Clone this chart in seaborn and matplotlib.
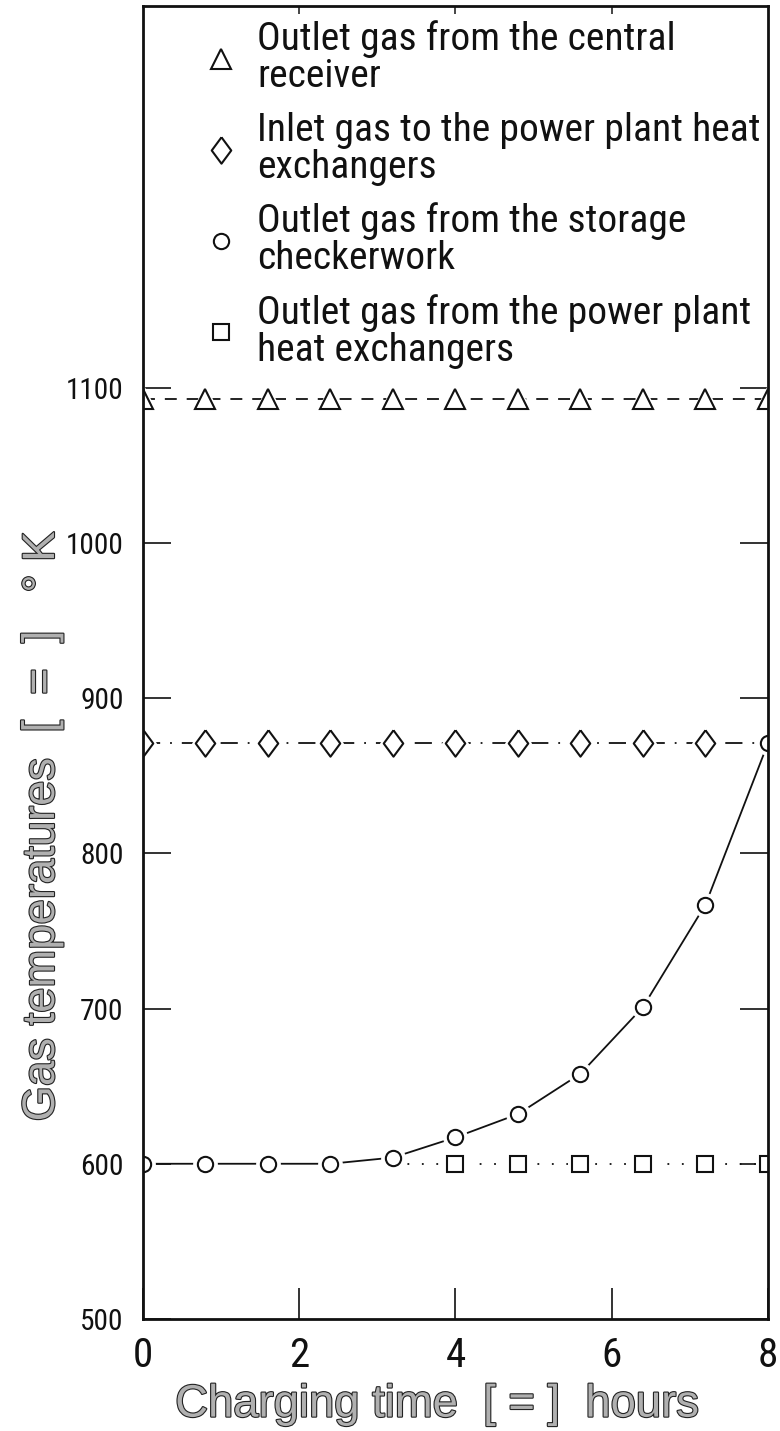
import numpy as np
import pandas as pd
import matplotlib
matplotlib.use('Agg')
import matplotlib.pyplot as plt
import matplotlib.patheffects as pe
import seaborn as sns

# Valores
tempo = [0.0, 0.8, 1.6, 2.4, 3.2, 4.0, 4.8, 5.6, 6.4, 7.2, 8.0]
receptor = [1093, 1093, 1093, 1093, 1093, 1093, 1093, 1093, 1093, 1093, 1093]
entrada_tc = [871, 871, 871, 871, 871, 871, 871, 871, 871, 871, 871]
saida_storage = [600, 600, 600, 600, 604, 617, 632, 658, 701, 767, 871]
tempo_tc = [3.2, 4.0, 4.8, 5.6, 6.4, 7.2, 8.0]
saida_tc = [600, 600, 600, 600, 600, 600, 600]

legendas = ['Outlet gas from the central\nreceiver',
            'Inlet gas to the power plant heat\nexchangers',
            'Outlet gas from the storage\ncheckerwork',
            'Outlet gas from the power plant\nheat exchangers']

xticks = [0, 2, 4, 6, 8]
yticks = [500, 600, 700, 800, 900, 1000, 1100]

sns.set_theme(style='ticks')
plt.rcParams['font.family'] = ['Roboto Condensed', 'DejaVu Sans Condensed',
                               'Liberation Sans Narrow', 'Roboto', 'DejaVu Sans']
plt.rcParams['font.stretch'] = 'condensed'

cor = '#111111'
losango = [(0, 1), (0.74, 0), (0, -1), (-0.74, 0), (0, 1)]

fig = plt.figure(figsize=(7.8, 14.31), dpi=100)
ax = fig.add_axes([0.1833, 0.0783, 0.8013, 0.9175])
renderer = fig.canvas.get_renderer()


# tamanho de fonte que deixa o texto com a largura desejada (px)
def tamanho(texto, largura, base=20, **kw):
    t = fig.text(0, 0, texto, fontsize=base, **kw)
    w = t.get_window_extent(renderer).width
    t.remove()
    return base * largura / w


def serie(x, y, marker, ms, ls, label, markevery=None):
    df = pd.DataFrame({'x': x, 'y': y})
    sns.lineplot(data=df, x='x', y='y', ax=ax, color=cor, linestyle=ls, lw=1.3,
                 estimator=None, sort=False)
    # marcador branco maior para abrir espaco na linha
    sns.lineplot(data=df, x='x', y='y', ax=ax, color='white', linestyle='none',
                 marker=marker, markersize=ms + 6, markerfacecolor='white',
                 markeredgecolor='white', markevery=markevery, estimator=None, sort=False)
    sns.lineplot(data=df, x='x', y='y', ax=ax, color=cor, linestyle='none',
                 marker=marker, markersize=ms, markerfacecolor='white',
                 markeredgecolor=cor, markeredgewidth=1.5, markevery=markevery,
                 estimator=None, sort=False, label=label)


serie(tempo, receptor, '^', 14, (0, (6.6, 5.5)), legendas[0])
serie(tempo, entrada_tc, losango, 19, (0, (9.5, 5.5, 1, 5.5)), legendas[1], markevery=list(range(10)))
serie(tempo_tc, saida_tc, 's', 12, (0, (1, 7)), legendas[3], markevery=list(range(1, 7)))
serie(tempo, saida_storage, 'o', 11, '-', legendas[2])

fs_y = tamanho('1000', 58)
fs_x = fs_y * 1.4

ax.set_xlim(0, 8)
ax.set_ylim(500, 1346)
ax.set_xticks(xticks)
ax.set_xticklabels([str(v) for v in xticks], fontsize=fs_x)
ax.set_yticks(yticks)
ax.set_yticklabels([str(v) for v in yticks], fontsize=fs_y)
ax.tick_params(axis='x', direction='in', length=22, width=1.2, pad=12, colors=cor)
ax.tick_params(axis='y', direction='in', length=20, width=1.2, pad=14, right=True, colors=cor)
topo = ax.secondary_xaxis('top')
topo.set_xticks([2, 4, 6])
topo.set_xticklabels([])
topo.tick_params(direction='in', length=6, width=1.2)
topo.spines['top'].set_visible(False)
for s in ax.spines.values():
    s.set_linewidth(2)
    s.set_color(cor)

contorno = [pe.withStroke(linewidth=1.6, foreground='#222222')]
rotulo_x = 'Charging time  [ = ]  hours'
rotulo_y = 'Gas temperatures  [  =  ]   ° K'
fs_lab = tamanho('Charging time', 282, family='Liberation Sans')
ax.set_xlabel(rotulo_x, fontsize=fs_lab, family='Liberation Sans',
              color='#b0b0b0', path_effects=contorno)
ax.set_ylabel(rotulo_y, fontsize=fs_lab, family='Liberation Sans',
              color='#b0b0b0', path_effects=contorno)
ax.xaxis.set_label_coords(0.47, -0.05)
ax.yaxis.set_label_coords(-0.128, 0.375)

fs_leg = tamanho('Inlet gas to the power plant heat', 500)
handles, labels = ax.get_legend_handles_labels()
ordem = [legendas.index(l) for l in labels]
pares = sorted(zip(ordem, handles, labels))
leg = ax.legend([p[1] for p in pares], [p[2] for p in pares], loc='upper left',
                bbox_to_anchor=(0.075, 1.004), frameon=False, fontsize=fs_leg,
                markerscale=1.0, handlelength=0.6, handletextpad=0.6,
                labelspacing=0.42, borderpad=0)
for t in leg.get_texts():
    t.set_linespacing(1.0)
    t.set_color(cor)

fig.savefig('out.png', dpi=100)
